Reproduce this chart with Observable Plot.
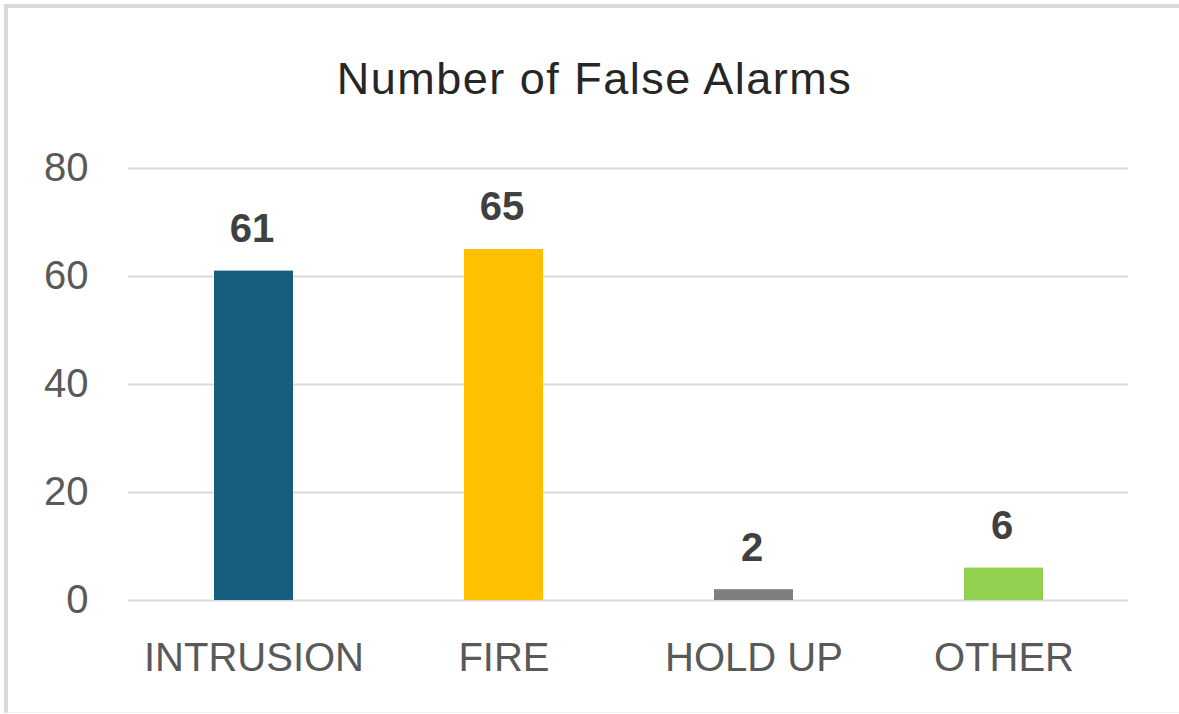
<!DOCTYPE html>
<html>
<head>
<meta charset="utf-8">
<script src="https://cdn.jsdelivr.net/npm/d3@7"></script>
<script src="https://cdn.jsdelivr.net/npm/@observablehq/plot@0.6"></script>
<style>
  html, body { margin: 0; padding: 0; background: #fff; overflow: hidden; }
  #wrap { position: relative; width: 1179px; height: 714px; }
  #frame { position: absolute; left: 4px; top: 4px; width: 1180px; height: 709px; box-sizing: border-box;
           border-left: 4px solid #d9d9d9; border-top: 4px solid #d9d9d9; border-bottom: 1px solid #eeeeee; pointer-events: none; }
  #title { height: 130px; box-sizing: border-box; padding-top: 53px; text-align: center; padding-left: 10px;
           font-family: "Liberation Sans", Arial, sans-serif; font-size: 45px; letter-spacing: 1.5px; color: #262626; line-height: normal; }
  #chart svg { display: block; }
</style>
</head>
<body>
<div id="wrap">
  <div id="title">Number of False Alarms</div>
  <div id="chart"></div>
  <div id="frame"></div>
</div>
<script>
const categories = ["INTRUSION", "FIRE", "HOLD UP", "OTHER"];
const counts = [61, 65, 2, 6];
const barColors = ["#175E7E", "#FFC000", "#7F7F7F", "#92D050"];
const yTicks = [0, 20, 40, 60, 80];

const data = categories.map((c, i) => ({category: c, count: counts[i], color: barColors[i]}));

const chart = Plot.plot({
  width: 1179,
  height: 584,
  marginTop: 38,
  marginBottom: 114,
  marginLeft: 128,
  marginRight: 51,
  style: {fontFamily: "'Liberation Sans', Arial, sans-serif", background: "transparent", overflow: "visible"},
  x: {domain: categories, paddingInner: 0.684, paddingOuter: 0.342, label: null},
  y: {domain: [0, 80], label: null},
  color: {type: "identity"},
  marks: [
    Plot.gridY(yTicks, {stroke: "#d9d9d9", strokeOpacity: 1, strokeWidth: 2}),
    Plot.barY(data, {x: "category", y: "count", fill: "color"}),
    Plot.axisY(yTicks, {tickSize: 0, tickPadding: 40, fontSize: 40, fill: "#595959", label: null}),
    Plot.axisX({tickSize: 0, tickPadding: 42, fontSize: 40, fill: "#595959", label: null}),
    Plot.text(data, {x: "category", y: "count", text: d => String(d.count), dy: -42, dx: -2,
      fontSize: 40, fontWeight: "bold", fill: "#404040"})
  ]
});
document.getElementById("chart").appendChild(chart);
</script>
</body>
</html>
